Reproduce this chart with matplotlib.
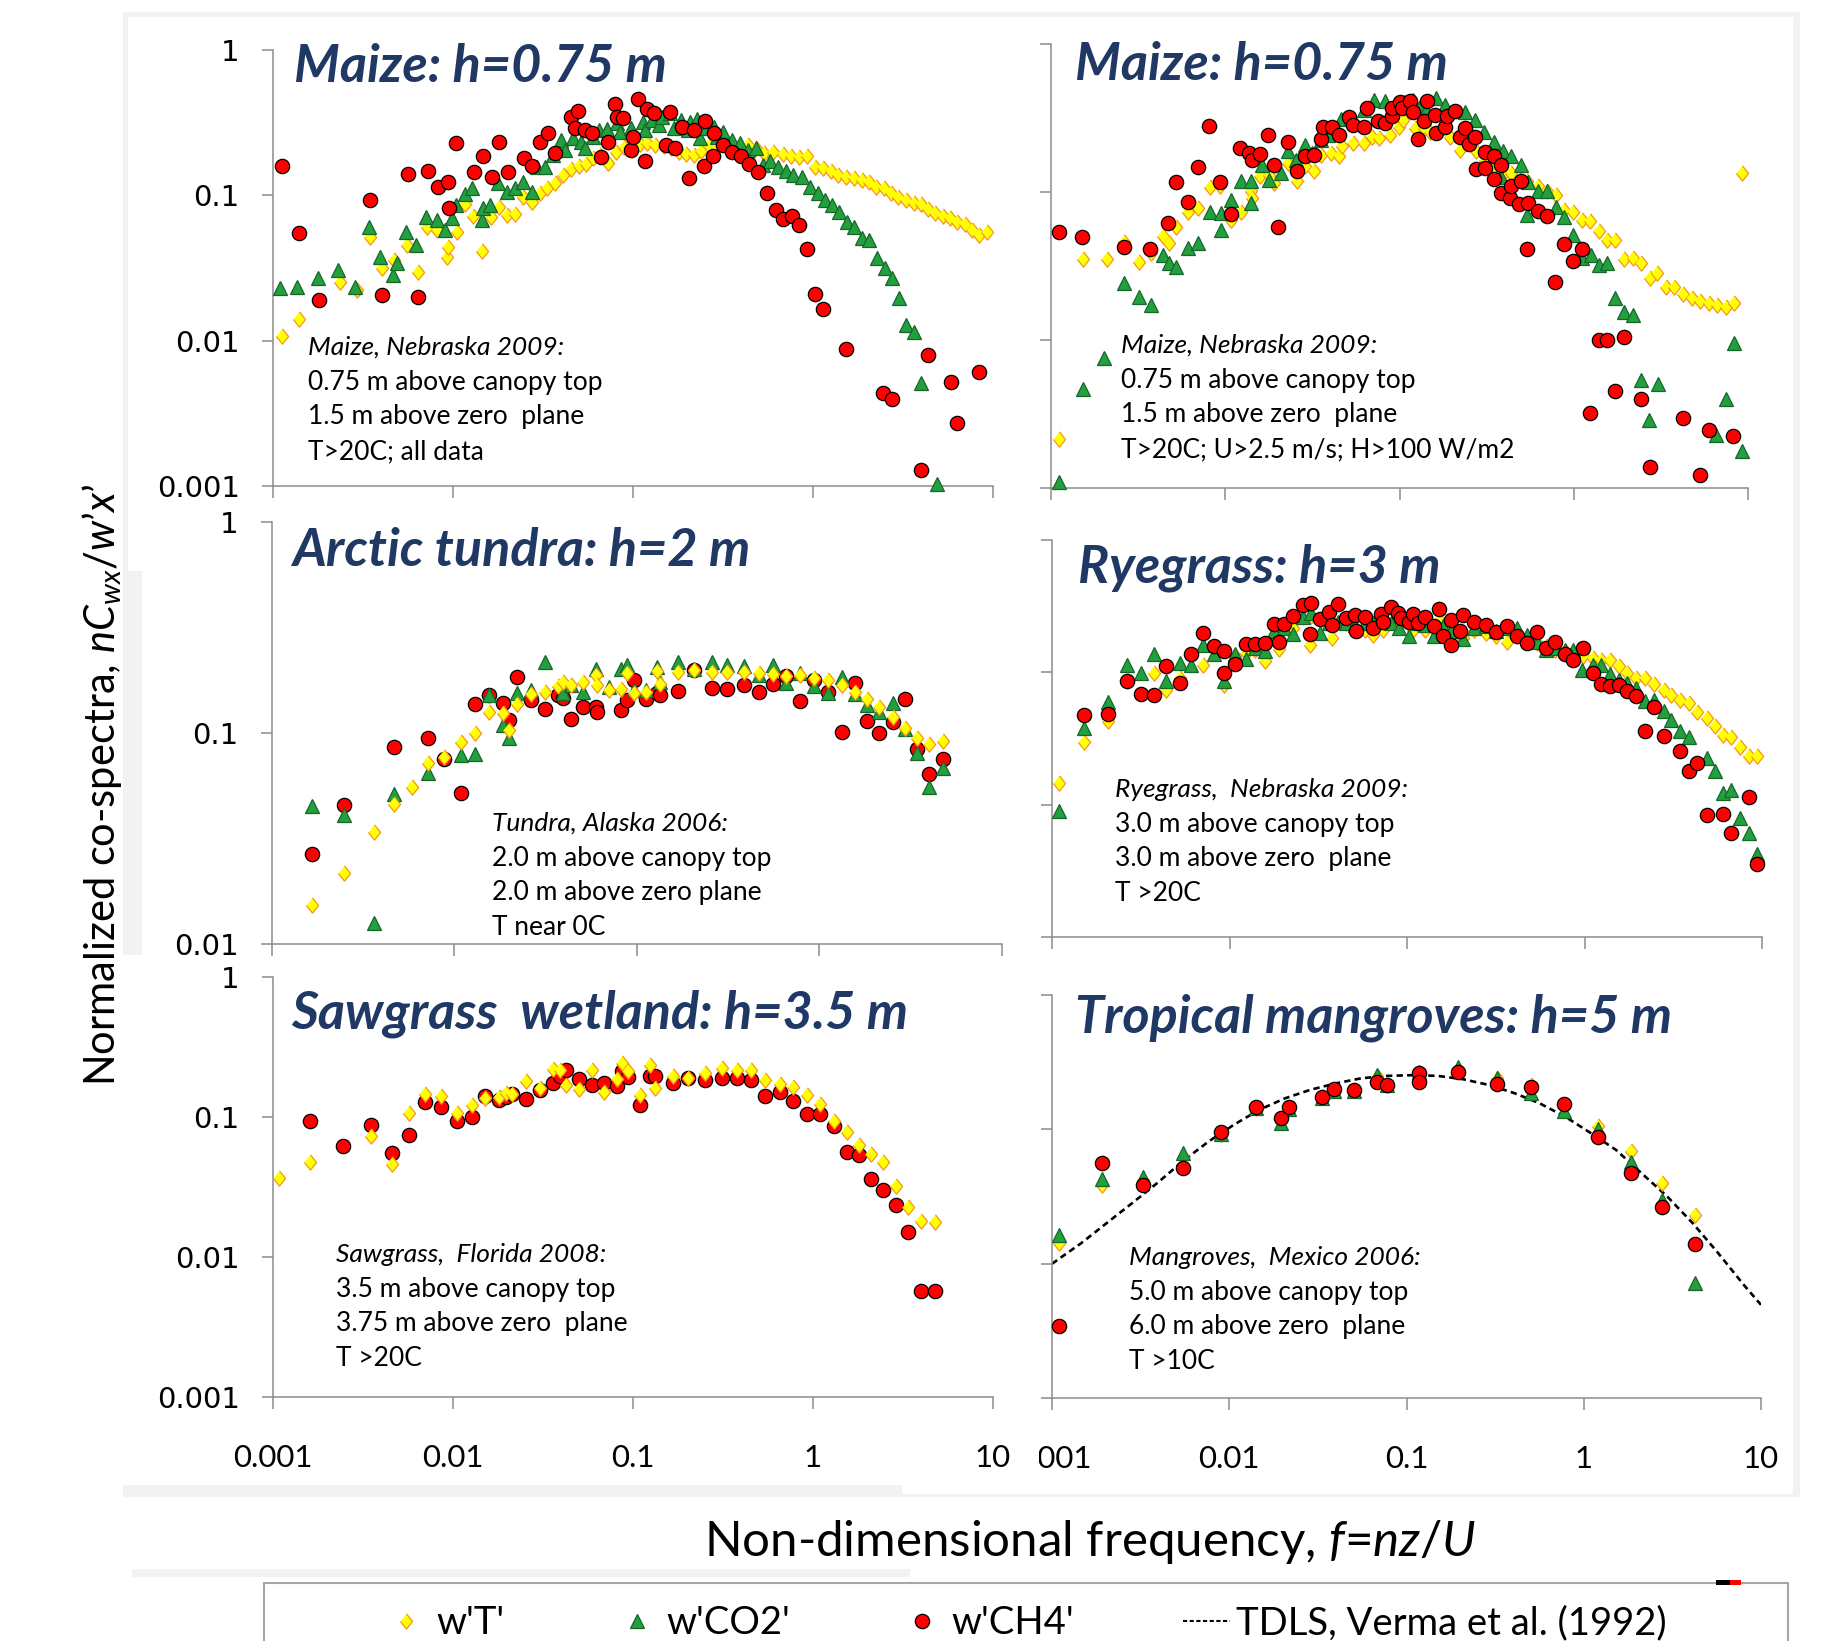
import numpy as np
import matplotlib
matplotlib.use("Agg")
import matplotlib.pyplot as plt
from matplotlib.lines import Line2D
from matplotlib.patches import Rectangle
from matplotlib.ticker import NullLocator

W, H, DPI = 1837, 1641, 100
plt.rcParams['font.family'] = ['Lato', 'DejaVu Sans']
plt.rcParams['mathtext.fontset'] = 'custom'
plt.rcParams['mathtext.it'] = 'Lato:italic'
plt.rcParams['mathtext.rm'] = 'Lato'
plt.rcParams['mathtext.bf'] = 'Lato:bold'

# ---------------- data ----------------
# Panel 1: Maize, all data
maize_all_T_f = [0.00112, 0.00139, 0.00237, 0.00294, 0.00344, 0.00404, 0.00472, 0.00556, 0.00641, 0.00713,
                 0.00818, 0.00932, 0.00944, 0.0105, 0.0116, 0.0129, 0.0145, 0.0163, 0.0181, 0.0199,
                 0.0221, 0.0246, 0.0276, 0.0305, 0.0334, 0.0371, 0.0409, 0.0451, 0.0498, 0.0549,
                 0.0602, 0.0652, 0.0723, 0.0803, 0.0891, 0.0984, 0.109, 0.12, 0.133, 0.148,
                 0.162, 0.18, 0.198, 0.219, 0.24, 0.265, 0.292, 0.324, 0.357, 0.394,
                 0.438, 0.483, 0.536, 0.6, 0.679, 0.754, 0.832, 0.929, 1.03, 1.14,
                 1.26, 1.38, 1.53, 1.69, 1.86, 2.05, 2.25, 2.48, 2.72, 2.98,
                 3.29, 3.62, 3.97, 4.35, 4.77, 5.26, 5.77, 6.32, 6.98, 7.69, 8.38, 9.24]
maize_all_T = [0.0107, 0.0142, 0.0252, 0.0223, 0.0514, 0.0315, 0.0359, 0.0455, 0.0295, 0.0609,
               0.0577, 0.0378, 0.0443, 0.056, 0.0872, 0.0721, 0.0414, 0.0713, 0.0835, 0.0732,
               0.074, 0.0979, 0.0895, 0.103, 0.112, 0.121, 0.138, 0.152, 0.16, 0.164,
               0.18, 0.19, 0.166, 0.2, 0.216, 0.205, 0.225, 0.23, 0.222, 0.219,
               0.211, 0.2, 0.192, 0.19, 0.203, 0.22, 0.211, 0.222, 0.219, 0.211,
               0.222, 0.211, 0.195, 0.2, 0.191, 0.187, 0.185, 0.187, 0.157, 0.153,
               0.148, 0.139, 0.134, 0.131, 0.128, 0.123, 0.115, 0.112, 0.103, 0.0979,
               0.0929, 0.0891, 0.0867, 0.0805, 0.076, 0.0721, 0.0702, 0.0659, 0.0632, 0.0577, 0.0533, 0.0556]
maize_all_CO2_f = [0.0011, 0.00136, 0.00178, 0.00231, 0.00287, 0.0034, 0.00393, 0.00466, 0.00491, 0.00548,
                   0.00625, 0.00704, 0.00813, 0.00908, 0.00982, 0.0104, 0.0116, 0.0128, 0.0144, 0.0147,
                   0.0161, 0.0177, 0.0199, 0.0221, 0.0246, 0.0273, 0.0291, 0.0323, 0.0359, 0.0396,
                   0.0417, 0.0467, 0.0515, 0.0542, 0.0598, 0.0648, 0.0714, 0.0813, 0.0851, 0.0977,
                   0.113, 0.117, 0.127, 0.14, 0.145, 0.16, 0.168, 0.184, 0.201, 0.207,
                   0.228, 0.237, 0.256, 0.282, 0.292, 0.318, 0.355, 0.394, 0.438, 0.483,
                   0.526, 0.58, 0.64, 0.706, 0.778, 0.865, 0.96, 1.06, 1.16, 1.28,
                   1.4, 1.55, 1.7, 1.87, 2.06, 2.26, 2.5, 2.74, 3.0, 3.29, 3.65, 4.0, 4.86]
maize_all_CO2 = [0.0229, 0.0235, 0.0268, 0.0306, 0.0235, 0.0609, 0.0378, 0.0283, 0.034, 0.0562,
                 0.0455, 0.0713, 0.0677, 0.0577, 0.0695, 0.0858, 0.102, 0.112, 0.0677, 0.0814,
                 0.0858, 0.121, 0.106, 0.112, 0.124, 0.106, 0.157, 0.157, 0.19, 0.24,
                 0.205, 0.247, 0.234, 0.211, 0.253, 0.282, 0.285, 0.313, 0.274, 0.289,
                 0.321, 0.282, 0.33, 0.305, 0.348, 0.367, 0.289, 0.33, 0.282, 0.321,
                 0.333, 0.247, 0.289, 0.297, 0.253, 0.274, 0.24, 0.23, 0.205, 0.211,
                 0.162, 0.171, 0.157, 0.146, 0.138, 0.134, 0.115, 0.103, 0.0929, 0.0858,
                 0.0772, 0.0659, 0.0609, 0.0506, 0.0493, 0.0369, 0.0315, 0.0268, 0.0196, 0.0128, 0.0115, 0.00508, 0.00104]
maize_all_CH4_f = [0.00112, 0.00139, 0.0018, 0.00347, 0.00404, 0.0056, 0.00638, 0.00723, 0.00823, 0.00938,
                   0.0095, 0.0104, 0.013, 0.0146, 0.0164, 0.0181, 0.0203, 0.0247, 0.0276, 0.0303,
                   0.0336, 0.0368, 0.0451, 0.0495, 0.0476, 0.0542, 0.059, 0.066, 0.0728, 0.0798,
                   0.0813, 0.0885, 0.097, 0.0997, 0.107, 0.117, 0.119, 0.131, 0.152, 0.16,
                   0.171, 0.187, 0.205, 0.219, 0.249, 0.252, 0.277, 0.282, 0.316, 0.355,
                   0.397, 0.44, 0.492, 0.553, 0.619, 0.683, 0.763, 0.837, 0.929, 1.02,
                   1.14, 1.53, 2.45, 2.74, 3.97, 4.35, 5.81, 6.32, 8.32]
maize_all_CH4 = [0.159, 0.0548, 0.019, 0.0929, 0.0205, 0.14, 0.0201, 0.146, 0.115, 0.123,
                 0.0814, 0.228, 0.144, 0.187, 0.134, 0.233, 0.144, 0.18, 0.16, 0.232,
                 0.27, 0.195, 0.348, 0.378, 0.289, 0.282, 0.267, 0.185, 0.232, 0.425,
                 0.348, 0.342, 0.205, 0.253, 0.458, 0.173, 0.391, 0.367, 0.222, 0.376,
                 0.211, 0.297, 0.132, 0.282, 0.16, 0.325, 0.187, 0.267, 0.222, 0.2,
                 0.187, 0.164, 0.144, 0.104, 0.0793, 0.0687, 0.0725, 0.0625, 0.0425, 0.0208,
                 0.0166, 0.0088, 0.00436, 0.00399, 0.00129, 0.008, 0.00522, 0.00273, 0.00605]

# Panel 2: Maize, filtered
maize_filt_T_f = [0.00111, 0.00152, 0.00209, 0.00261, 0.00318, 0.00374, 0.00442, 0.00473, 0.00525, 0.00608,
                  0.00701, 0.00813, 0.00931, 0.0108, 0.0123, 0.014, 0.0142, 0.0158, 0.0179, 0.0191,
                  0.0228, 0.0257, 0.0288, 0.0324, 0.0353, 0.0404, 0.0447, 0.0469, 0.054, 0.0627,
                  0.0693, 0.0759, 0.0879, 0.0993, 0.105, 0.122, 0.139, 0.149, 0.173, 0.195,
                  0.221, 0.251, 0.276, 0.308, 0.347, 0.389, 0.439, 0.493, 0.538, 0.626,
                  0.706, 0.792, 0.877, 0.991, 1.11, 1.24, 1.39, 1.56, 1.73, 1.95,
                  2.18, 2.43, 2.73, 3.02, 3.39, 3.78, 4.24, 4.75, 5.3, 5.94, 6.67, 7.43, 8.34, 9.22]
maize_filt_T = [0.00216, 0.0353, 0.0355, 0.0462, 0.0338, 0.0385, 0.0505, 0.0455, 0.0583, 0.0737,
                0.0776, 0.108, 0.109, 0.0648, 0.0737, 0.101, 0.0908, 0.129, 0.131, 0.115,
                0.157, 0.118, 0.149, 0.138, 0.178, 0.183, 0.176, 0.203, 0.216, 0.214,
                0.237, 0.231, 0.243, 0.274, 0.308, 0.27, 0.27, 0.256, 0.27, 0.235,
                0.193, 0.214, 0.188, 0.165, 0.149, 0.131, 0.134, 0.121, 0.118, 0.109,
                0.101, 0.0955, 0.0757, 0.0737, 0.0648, 0.0641, 0.0548, 0.0474, 0.0474, 0.0351,
                0.0356, 0.033, 0.0261, 0.0282, 0.0229, 0.0229, 0.0204, 0.0191, 0.0183, 0.0177, 0.0172, 0.0166, 0.0177, 0.134]
maize_filt_CO2_f = [0.00111, 0.00152, 0.00202, 0.00261, 0.00318, 0.00374, 0.00442, 0.00473, 0.00525, 0.00612,
                    0.00701, 0.00813, 0.00944, 0.00944, 0.0108, 0.0123, 0.0141, 0.0141, 0.0162, 0.0179,
                    0.0208, 0.0228, 0.0255, 0.0288, 0.0313, 0.0353, 0.0391, 0.046, 0.053, 0.0627,
                    0.0718, 0.0822, 0.0953, 0.106, 0.119, 0.132, 0.141, 0.162, 0.183, 0.209,
                    0.239, 0.27, 0.306, 0.347, 0.394, 0.439, 0.496, 0.384, 0.546, 0.626,
                    0.706, 0.538, 0.792, 0.877, 0.991, 1.11, 1.25, 1.39, 1.56, 1.73,
                    1.95, 2.18, 2.42, 2.71, 3.04, 6.58, 7.43, 8.28, 9.22]
maize_filt_CO2 = [0.0011, 0.0047, 0.0075, 0.0241, 0.0196, 0.0172, 0.0375, 0.0333, 0.0313, 0.0416,
                  0.045, 0.0737, 0.0718, 0.0554, 0.0885, 0.118, 0.118, 0.0848, 0.153, 0.121,
                  0.134, 0.188, 0.165, 0.208, 0.183, 0.225, 0.243, 0.311, 0.316, 0.359,
                  0.42, 0.409, 0.399, 0.403, 0.42, 0.389, 0.359, 0.431, 0.389, 0.35,
                  0.345, 0.308, 0.256, 0.219, 0.188, 0.174, 0.153, 0.127, 0.116, 0.101,
                  0.101, 0.07, 0.0797, 0.0682, 0.0513, 0.0356, 0.0375, 0.0321, 0.033, 0.0191,
                  0.0155, 0.0147, 0.00535, 0.00287, 0.00503, 0.00227, 0.00398, 0.00957, 0.00177]
maize_filt_CH4_f = [0.00111, 0.0015, 0.00261, 0.00372, 0.00468, 0.00525, 0.00608, 0.00701, 0.00808, 0.00931,
                    0.0108, 0.0121, 0.0137, 0.0142, 0.0158, 0.0177, 0.0191, 0.0201, 0.0228, 0.0257,
                    0.0288, 0.0324, 0.0353, 0.0365, 0.041, 0.0447, 0.0511, 0.054, 0.0627, 0.0649,
                    0.0748, 0.0822, 0.091, 0.091, 0.101, 0.103, 0.115, 0.119, 0.128, 0.139,
                    0.143, 0.16, 0.162, 0.183, 0.188, 0.209, 0.222, 0.239, 0.251, 0.27,
                    0.274, 0.308, 0.308, 0.347, 0.347, 0.384, 0.384, 0.431, 0.439, 0.486,
                    0.496, 0.546, 0.538, 0.626, 0.706, 0.782, 0.877, 0.991, 1.11, 1.24,
                    1.39, 1.56, 1.73, 1.93, 2.42, 2.73, 4.24, 5.3, 5.94, 8.17]
maize_filt_CH4 = [0.0534, 0.0499, 0.0423, 0.041, 0.0615, 0.116, 0.0853, 0.147, 0.28, 0.116,
                  0.0711, 0.198, 0.183, 0.165, 0.181, 0.241, 0.153, 0.0583, 0.217, 0.138,
                  0.174, 0.178, 0.228, 0.274, 0.274, 0.241, 0.321, 0.285, 0.277, 0.369,
                  0.3, 0.292, 0.324, 0.369, 0.403, 0.369, 0.409, 0.345, 0.228, 0.304,
                  0.409, 0.332, 0.25, 0.274, 0.327, 0.35, 0.237, 0.27, 0.211, 0.235,
                  0.143, 0.145, 0.185, 0.174, 0.123, 0.153, 0.0991, 0.0908, 0.109, 0.0827,
                  0.118, 0.0839, 0.0412, 0.0749, 0.0693, 0.0245, 0.0446, 0.0344, 0.0414, 0.00322,
                  0.00998, 0.00998, 0.00451, 0.0105, 0.00402, 0.00139, 0.00297, 0.00122, 0.00248, 0.00224]

# Panel 3: Arctic tundra
tundra_T_f = [0.00166, 0.00249, 0.00361, 0.00467, 0.00582, 0.00716, 0.0088, 0.0108, 0.013, 0.0155,
              0.0184, 0.02, 0.0221, 0.0263, 0.0313, 0.037, 0.0395, 0.0433, 0.0508, 0.0598,
              0.0602, 0.0703, 0.0815, 0.0881, 0.0966, 0.112, 0.128, 0.134, 0.167, 0.206,
              0.256, 0.313, 0.385, 0.465, 0.554, 0.656, 0.786, 0.936, 1.11, 1.32,
              1.56, 1.82, 2.13, 2.52, 2.94, 3.41, 3.96, 4.78]
tundra_T = [0.0153, 0.0218, 0.0338, 0.0461, 0.0557, 0.0719, 0.0773, 0.091, 0.1, 0.126,
            0.125, 0.103, 0.137, 0.153, 0.157, 0.167, 0.175, 0.169, 0.174, 0.188,
            0.169, 0.16, 0.161, 0.192, 0.155, 0.157, 0.197, 0.171, 0.194, 0.199,
            0.194, 0.194, 0.195, 0.192, 0.19, 0.187, 0.188, 0.183, 0.178, 0.169,
            0.157, 0.145, 0.133, 0.119, 0.106, 0.0951, 0.0887, 0.092]
tundra_CO2_f = [0.00166, 0.00249, 0.00361, 0.00467, 0.00716, 0.0108, 0.013, 0.0155, 0.0184, 0.02,
                0.0221, 0.0263, 0.0313, 0.0395, 0.0433, 0.0508, 0.0598, 0.0703, 0.0815, 0.0881,
                0.0966, 0.112, 0.128, 0.134, 0.167, 0.206, 0.256, 0.313, 0.385, 0.465,
                0.554, 0.656, 0.786, 0.936, 1.11, 1.32, 1.56, 1.82, 2.13, 2.52,
                2.94, 3.41, 3.96, 4.78]
tundra_CO2 = [0.0453, 0.0409, 0.0126, 0.0514, 0.0645, 0.0787, 0.0793, 0.151, 0.109, 0.0951,
              0.154, 0.16, 0.218, 0.154, 0.169, 0.157, 0.202, 0.166, 0.2, 0.21,
              0.16, 0.16, 0.205, 0.175, 0.218, 0.2, 0.216, 0.21, 0.207, 0.188,
              0.21, 0.172, 0.192, 0.167, 0.155, 0.185, 0.153, 0.136, 0.126, 0.138,
              0.105, 0.0801, 0.0553, 0.0681]
tundra_CH4_f = [0.00166, 0.00249, 0.00467, 0.00716, 0.0088, 0.0108, 0.013, 0.0155, 0.0184, 0.02,
                0.0221, 0.0263, 0.0313, 0.037, 0.0395, 0.0433, 0.0508, 0.0598, 0.0602, 0.0815,
                0.0881, 0.0966, 0.112, 0.128, 0.134, 0.167, 0.206, 0.256, 0.313, 0.385,
                0.465, 0.554, 0.656, 0.786, 0.936, 1.11, 1.32, 1.56, 1.82, 2.13,
                2.52, 2.94, 3.41, 3.96, 4.78]
tundra_CH4 = [0.0267, 0.0456, 0.0861, 0.0944, 0.0751, 0.0518, 0.137, 0.151, 0.139, 0.115,
              0.185, 0.144, 0.13, 0.152, 0.147, 0.116, 0.133, 0.133, 0.126, 0.128,
              0.143, 0.178, 0.145, 0.154, 0.152, 0.159, 0.199, 0.164, 0.161, 0.168,
              0.156, 0.171, 0.187, 0.142, 0.178, 0.156, 0.101, 0.172, 0.114, 0.0996,
              0.113, 0.145, 0.0837, 0.0637, 0.0754]

# Panel 4: Ryegrass
rye_T_f = [0.0011, 0.00152, 0.00208, 0.00264, 0.00374, 0.00441, 0.00527, 0.00707, 0.00934, 0.0108,
           0.0124, 0.014, 0.0158, 0.0189, 0.0228, 0.0284, 0.0289, 0.0377, 0.0455, 0.0578,
           0.0647, 0.0729, 0.0901, 0.108, 0.127, 0.151, 0.178, 0.207, 0.238, 0.279,
           0.319, 0.365, 0.419, 0.475, 0.54, 0.608, 0.681, 0.773, 0.865, 0.982,
           1.11, 1.24, 1.39, 1.56, 1.74, 1.96, 2.2, 2.46, 2.79, 3.08,
           3.45, 3.89, 4.33, 4.88, 5.42, 6.03, 6.71, 7.52, 8.41, 9.35]
rye_T = [0.0146, 0.0298, 0.0431, 0.0853, 0.0987, 0.0739, 0.0905, 0.113, 0.0796, 0.134,
         0.14, 0.148, 0.121, 0.15, 0.216, 0.161, 0.267, 0.181, 0.235, 0.209,
         0.192, 0.209, 0.229, 0.209, 0.209, 0.249, 0.229, 0.181, 0.209, 0.198,
         0.187, 0.171, 0.187, 0.176, 0.166, 0.157, 0.148, 0.144, 0.14, 0.133,
         0.128, 0.123, 0.124, 0.111, 0.0987, 0.0905, 0.0905, 0.082, 0.0739, 0.0677,
         0.0621, 0.0586, 0.0501, 0.0452, 0.0391, 0.0334, 0.0325, 0.0271, 0.0232, 0.0232]
rye_CO2_f = [0.0011, 0.00152, 0.00208, 0.00264, 0.00318, 0.00374, 0.00441, 0.00527, 0.0061, 0.00707,
             0.00818, 0.00934, 0.0108, 0.0124, 0.014, 0.0158, 0.0178, 0.0203, 0.0228, 0.026,
             0.0289, 0.0324, 0.0365, 0.0409, 0.0455, 0.051, 0.0578, 0.0647, 0.0729, 0.0811,
             0.0901, 0.102, 0.115, 0.127, 0.142, 0.16, 0.178, 0.207, 0.238, 0.279,
             0.319, 0.365, 0.419, 0.475, 0.54, 0.608, 0.681, 0.773, 0.865, 0.969,
             1.11, 1.24, 1.39, 1.56, 1.74, 1.96, 2.2, 2.46, 2.79, 3.08,
             3.45, 3.89, 4.88, 5.42, 6.03, 6.71, 7.52, 8.41, 9.35]
rye_CO2 = [0.00903, 0.038, 0.0596, 0.114, 0.0987, 0.138, 0.0864, 0.117, 0.114, 0.161,
           0.138, 0.0853, 0.138, 0.127, 0.152, 0.144, 0.204, 0.216, 0.195, 0.264,
           0.28, 0.198, 0.235, 0.242, 0.235, 0.229, 0.235, 0.235, 0.242, 0.235,
           0.216, 0.189, 0.235, 0.229, 0.189, 0.222, 0.204, 0.179, 0.216, 0.222,
           0.207, 0.216, 0.216, 0.192, 0.171, 0.148, 0.152, 0.148, 0.148, 0.105,
           0.114, 0.114, 0.097, 0.0879, 0.0829, 0.076, 0.0603, 0.0621, 0.0507, 0.0434,
           0.0362, 0.0323, 0.0225, 0.0179, 0.0123, 0.0128, 0.00795, 0.00606, 0.00421]
rye_CH4_f = [0.00152, 0.00208, 0.00264, 0.00318, 0.00374, 0.00441, 0.00527, 0.0061, 0.00707, 0.00818,
             0.00934, 0.00934, 0.0108, 0.0124, 0.014, 0.0158, 0.0178, 0.0189, 0.0203, 0.0228,
             0.026, 0.0284, 0.0289, 0.0324, 0.0365, 0.0377, 0.0409, 0.0455, 0.051, 0.0516,
             0.0578, 0.0647, 0.071, 0.0729, 0.0811, 0.089, 0.0926, 0.102, 0.108, 0.115,
             0.127, 0.142, 0.151, 0.16, 0.178, 0.178, 0.2, 0.207, 0.238, 0.279,
             0.319, 0.365, 0.419, 0.475, 0.54, 0.608, 0.681, 0.773, 0.865, 0.982,
             1.11, 1.24, 1.39, 1.56, 1.74, 1.96, 2.2, 2.46, 2.79, 3.45,
             3.89, 4.33, 4.88, 6.03, 6.71, 8.41, 9.35]
rye_CH4 = [0.0473, 0.0487, 0.0853, 0.0685, 0.0669, 0.111, 0.0829, 0.138, 0.198, 0.157,
           0.146, 0.0987, 0.116, 0.163, 0.164, 0.166, 0.232, 0.169, 0.232, 0.267,
           0.32, 0.194, 0.337, 0.254, 0.288, 0.229, 0.327, 0.257, 0.272, 0.204,
           0.261, 0.216, 0.277, 0.242, 0.314, 0.28, 0.257, 0.242, 0.275, 0.235,
           0.261, 0.222, 0.3, 0.187, 0.161, 0.249, 0.204, 0.272, 0.242, 0.229,
           0.201, 0.222, 0.187, 0.166, 0.201, 0.154, 0.171, 0.137, 0.124, 0.154,
           0.0987, 0.082, 0.0783, 0.0806, 0.0718, 0.0658, 0.0358, 0.0543, 0.0328, 0.0253,
           0.0179, 0.0207, 0.00833, 0.00857, 0.00606, 0.0115, 0.00358]

# Panel 5: Sawgrass wetland (no CO2)
saw_T_f = [0.00108, 0.00161, 0.00352, 0.00459, 0.00566, 0.00695, 0.00861, 0.0105, 0.0127, 0.0151,
           0.0181, 0.0197, 0.0214, 0.0255, 0.0303, 0.0361, 0.0391, 0.0423, 0.0501, 0.059,
           0.0687, 0.0813, 0.0874, 0.094, 0.11, 0.125, 0.133, 0.166, 0.203, 0.252,
           0.313, 0.379, 0.455, 0.543, 0.653, 0.778, 0.929, 1.1, 1.31, 1.55,
           1.8, 2.1, 2.46, 2.88, 3.37, 3.97, 4.77]
saw_T = [0.0366, 0.0476, 0.0734, 0.0463, 0.107, 0.146, 0.142, 0.107, 0.122, 0.136,
         0.14, 0.148, 0.147, 0.18, 0.161, 0.22, 0.218, 0.17, 0.159, 0.215,
         0.15, 0.187, 0.243, 0.212, 0.144, 0.236, 0.161, 0.195, 0.19, 0.206,
         0.224, 0.218, 0.215, 0.185, 0.173, 0.165, 0.143, 0.124, 0.0929, 0.078,
         0.0626, 0.0546, 0.0476, 0.0319, 0.0227, 0.0182, 0.0179]
saw_CH4_f = [0.00161, 0.00244, 0.00352, 0.00459, 0.00566, 0.00695, 0.00861, 0.0105, 0.0127, 0.0151,
             0.0181, 0.0197, 0.0214, 0.0255, 0.0303, 0.0361, 0.0391, 0.0423, 0.0501, 0.059,
             0.0687, 0.0813, 0.0874, 0.094, 0.11, 0.125, 0.133, 0.166, 0.203, 0.252,
             0.313, 0.379, 0.455, 0.543, 0.653, 0.778, 0.929, 1.1, 1.31, 1.55,
             1.8, 2.1, 2.46, 2.88, 3.37, 3.97, 4.77]
saw_CH4 = [0.0929, 0.0623, 0.088, 0.0552, 0.0738, 0.128, 0.117, 0.0929, 0.0993, 0.142,
           0.133, 0.139, 0.146, 0.134, 0.157, 0.175, 0.195, 0.218, 0.187, 0.17,
           0.175, 0.167, 0.212, 0.193, 0.122, 0.197, 0.197, 0.175, 0.19, 0.183,
           0.19, 0.19, 0.183, 0.142, 0.152, 0.131, 0.105, 0.105, 0.0857, 0.0561,
           0.0537, 0.036, 0.0302, 0.0236, 0.015, 0.00573, 0.00573]

# Panel 6: Tropical mangroves
mang_f = [0.0011, 0.00191, 0.00327, 0.00545, 0.00895, 0.0142, 0.0195, 0.0217, 0.0334, 0.0392,
          0.0503, 0.0679, 0.0775, 0.117, 0.196, 0.322, 0.505, 0.776, 1.21, 1.84, 2.77, 4.26]
mang_T = [0.0142, 0.0386, 0.0421, 0.0627, 0.0925, 0.144, 0.117, 0.144, 0.175, 0.197,
          0.197, 0.25, 0.214, 0.261, 0.277, 0.24, 0.214, 0.152, 0.105, 0.0684, 0.0397, 0.0231]
mang_CO2 = [0.0164, 0.0425, 0.0445, 0.0664, 0.0925, 0.144, 0.112, 0.141, 0.172, 0.194,
            0.194, 0.254, 0.214, 0.269, 0.293, 0.24, 0.186, 0.136, 0.101, 0.0576, 0.0299, 0.00716]
mang_CH4_f = [0.0011, 0.00191, 0.00327, 0.00545, 0.00895, 0.0142, 0.0195, 0.0217, 0.0334, 0.0392,
              0.0503, 0.0679, 0.0775, 0.117, 0.117, 0.196, 0.322, 0.505, 0.776, 1.21, 1.84, 2.77, 4.26]
mang_CH4 = [0.00341, 0.056, 0.0386, 0.0514, 0.0951, 0.146, 0.121, 0.146, 0.175, 0.2,
            0.197, 0.224, 0.212, 0.261, 0.224, 0.266, 0.218, 0.205, 0.155, 0.0883, 0.0472, 0.0263, 0.0141]
tdls_f = [0.001, 0.00146, 0.00203, 0.00283, 0.00394, 0.00548, 0.00763, 0.0106, 0.0148, 0.0206,
          0.0287, 0.04, 0.0556, 0.0775, 0.108, 0.15, 0.209, 0.291, 0.406, 0.565,
          0.787, 1.1, 1.52, 2.12, 2.96, 4.12, 5.73, 7.98, 10.0]
tdls_v = [0.00998, 0.0142, 0.02, 0.0282, 0.040, 0.058, 0.081, 0.108, 0.14, 0.17,
          0.197, 0.22, 0.24, 0.25, 0.253, 0.25, 0.236, 0.214, 0.186, 0.156,
          0.124, 0.0935, 0.0703, 0.0471, 0.0316, 0.02, 0.012, 0.00697, 0.00494]

x_ticks = [0.001, 0.01, 0.1, 1, 10]
x_ticklabels = ['0.001', '0.01', '0.1', '1', '10']
legend_labels = ["w'T'", "w'CO2'", "w'CH4'", "TDLS, Verma et al. (1992)"]

titles = ["Maize: h=0.75 m", "Maize: h=0.75 m", "Arctic tundra: h=2 m",
          "Ryegrass: h=3 m", "Sawgrass  wetland: h=3.5 m", "Tropical mangroves: h=5 m"]
notes = [
    ["Maize, Nebraska 2009:", "0.75 m above canopy top", "1.5 m above zero  plane", "T>20C; all data"],
    ["Maize, Nebraska 2009:", "0.75 m above canopy top", "1.5 m above zero  plane", "T>20C; U>2.5 m/s; H>100 W/m2"],
    ["Tundra, Alaska 2006:", "2.0 m above canopy top", "2.0 m above zero plane", "T near 0C"],
    ["Ryegrass,  Nebraska 2009:", "3.0 m above canopy top", "3.0 m above zero  plane", "T >20C"],
    ["Sawgrass,  Florida 2008:", "3.5 m above canopy top", "3.75 m above zero  plane", "T >20C"],
    ["Mangroves,  Mexico 2006:", "5.0 m above canopy top", "6.0 m above zero  plane", "T >10C"],
]

# ---------------- styles / layout ----------------
DIAMOND = [(0, 1), (0.8, 0), (0, -1), (-0.8, 0)]
STY = {
    'T':   dict(marker=DIAMOND, ms=11, mfc='#FFFF00', mec='#F7941D', mew=0.9),
    'CO2': dict(marker='^', ms=10.5, mfc='#23A03E', mec='#17652A', mew=0.9),
    'CH4': dict(marker='o', ms=10.3, mfc='#FF0000', mec='#000000', mew=0.9),
}
TITLE_COLOR = '#1F3864'
AXIS_COLOR = '#8C8C8C'

fig = plt.figure(figsize=(W / DPI, H / DPI), dpi=DPI)
fig.patch.set_facecolor('white')


def fx(x):
    return x / W


def fy(y):
    return 1 - y / H


def add_rect(x0, y0, x1, y1, color, z=-1, ec='none', lw=0):
    fig.add_artist(Rectangle((fx(x0), fy(y1)), (x1 - x0) / W, (y1 - y0) / H,
                             transform=fig.transFigure, facecolor=color,
                             edgecolor=ec, linewidth=lw, zorder=z, clip_on=False))


# light grey frame pieces of the original slide
add_rect(123, 12, 1800, 17, '#F2F2F2')
add_rect(123, 12, 128, 571, '#F2F2F2')
add_rect(123, 571, 142, 955, '#F2F2F2')
add_rect(1793, 12, 1800, 1497, '#F2F2F2')
add_rect(123, 1485, 902, 1497, '#F2F2F2')
add_rect(902, 1494, 1800, 1497, '#F2F2F2')
add_rect(132, 1569, 910, 1577, '#F2F2F2')

boxes = [(273, 50, 993, 486), (1051, 44, 1748, 488),
         (272, 522, 1002, 944), (1052, 540, 1762, 937),
         (273, 977, 993, 1397), (1052, 995, 1761, 1398)]
ylims = [(1e-3, 1), (1e-3, 1), (1e-2, 1), (1e-3, 1), (1e-3, 1), (1e-3, 1)]
title_pos = [(294, 82), (1075, 80), (292, 566), (1078, 582), (291, 1029), (1075, 1032)]
note_pos = [(308, 355), (1121, 353), (492, 831), (1115, 797), (336, 1262), (1129, 1265)]

series = [
    [('T', maize_all_T_f, maize_all_T), ('CO2', maize_all_CO2_f, maize_all_CO2), ('CH4', maize_all_CH4_f, maize_all_CH4)],
    [('T', maize_filt_T_f, maize_filt_T), ('CO2', maize_filt_CO2_f, maize_filt_CO2), ('CH4', maize_filt_CH4_f, maize_filt_CH4)],
    [('CH4', tundra_CH4_f, tundra_CH4), ('CO2', tundra_CO2_f, tundra_CO2), ('T', tundra_T_f, tundra_T)],
    [('T', rye_T_f, rye_T), ('CO2', rye_CO2_f, rye_CO2), ('CH4', rye_CH4_f, rye_CH4)],
    [('CH4', saw_CH4_f, saw_CH4), ('T', saw_T_f, saw_T)],
    [('T', mang_f, mang_T), ('CO2', mang_f, mang_CO2), ('CH4', mang_CH4_f, mang_CH4)],
]

axes = []
for i, (box, ylim) in enumerate(zip(boxes, ylims)):
    x0, y0, x1, y1 = box
    ax = fig.add_axes([fx(x0), fy(y1), (x1 - x0) / W, (y1 - y0) / H])
    ax.set_xscale('log')
    ax.set_yscale('log')
    ax.set_xlim(1e-3, 10)
    ax.set_ylim(*ylim)
    for s in ('top', 'right'):
        ax.spines[s].set_visible(False)
    for s in ('left', 'bottom'):
        ax.spines[s].set_color(AXIS_COLOR)
        ax.spines[s].set_linewidth(1.1)
    bottom_row = i >= 4
    left_col = i % 2 == 0
    ax.set_xticks(x_ticks, labels=x_ticklabels if bottom_row else [''] * 5)
    yt = [v for v in [0.001, 0.01, 0.1, 1] if ylim[0] <= v <= ylim[1]]
    ax.set_yticks(yt, labels=[('%g' % v) for v in yt] if left_col else [''] * len(yt))
    ax.xaxis.set_minor_locator(NullLocator())
    ax.yaxis.set_minor_locator(NullLocator())
    ax.tick_params(axis='x', direction='out', length=8.6, width=1.1, color=AXIS_COLOR,
                   pad=25, labelsize=22.5, labelbottom=bottom_row)
    ax.tick_params(axis='y', direction='out', length=8, width=1.1, color=AXIS_COLOR,
                   pad=16, labelsize=21, labelleft=left_col)
    for lab in ax.get_yticklabels():
        lab.set_fontfamily('DejaVu Sans')
    if i == 5:
        ax.plot(tdls_f, tdls_v, color='black', lw=1.9, dashes=(2.4, 1.6), zorder=2)
    for key, fv, vv in series[i]:
        ax.plot(fv, vv, ls='none', clip_on=False, zorder=3, **STY[key])
    axes.append(ax)

    tx, ty = title_pos[i]
    fig.text(fx(tx), fy(ty), titles[i], fontsize=37.5, fontweight='bold', fontstyle='italic',
             color=TITLE_COLOR, ha='left', va='baseline')
    nx, ny = note_pos[i]
    for k, line in enumerate(notes[i]):
        fig.text(fx(nx), fy(ny + k * 34.7), line, fontsize=19,
                 fontstyle='italic' if k == 0 else 'normal', color='black',
                 ha='left', va='baseline')

# the right-hand chart's background hides the start of its first x label
add_rect(1011, 1430, 1039, 1485, 'white', z=10)

# axis titles
fig.text(fx(1090), fy(1556), "Non-dimensional frequency, $f$=$nz/U$", fontsize=35.5,
         ha='center', va='baseline', color='black')
fig.text(fx(115), fy(785), "Normalized co-spectra, $nC_{wx}/w\u2019x\u2019$", fontsize=30,
         rotation=90, rotation_mode='anchor', ha='center', va='baseline', color='black')

# legend
add_rect(264, 1583, 1788, 1700, 'none', z=1, ec='#A6A6A6', lw=1.5)
add_rect(1716, 1580, 1730, 1585, 'black', z=2)
add_rect(1730, 1580, 1741, 1585, '#FF0000', z=2)
handles = [Line2D([], [], ls='none', **STY['T']),
           Line2D([], [], ls='none', **STY['CO2']),
           Line2D([], [], ls='none', **STY['CH4']),
           Line2D([], [], color='black', lw=1.5, dashes=(2.0, 1.2))]
fig.legend(handles, legend_labels, loc='center left', bbox_to_anchor=(fx(383), fy(1623)),
           ncol=4, frameon=False, fontsize=27.5, handlelength=1.23, handletextpad=0.16,
           columnspacing=2.85, borderpad=0, borderaxespad=0)

fig.savefig('out.png', dpi=DPI, facecolor='white')
